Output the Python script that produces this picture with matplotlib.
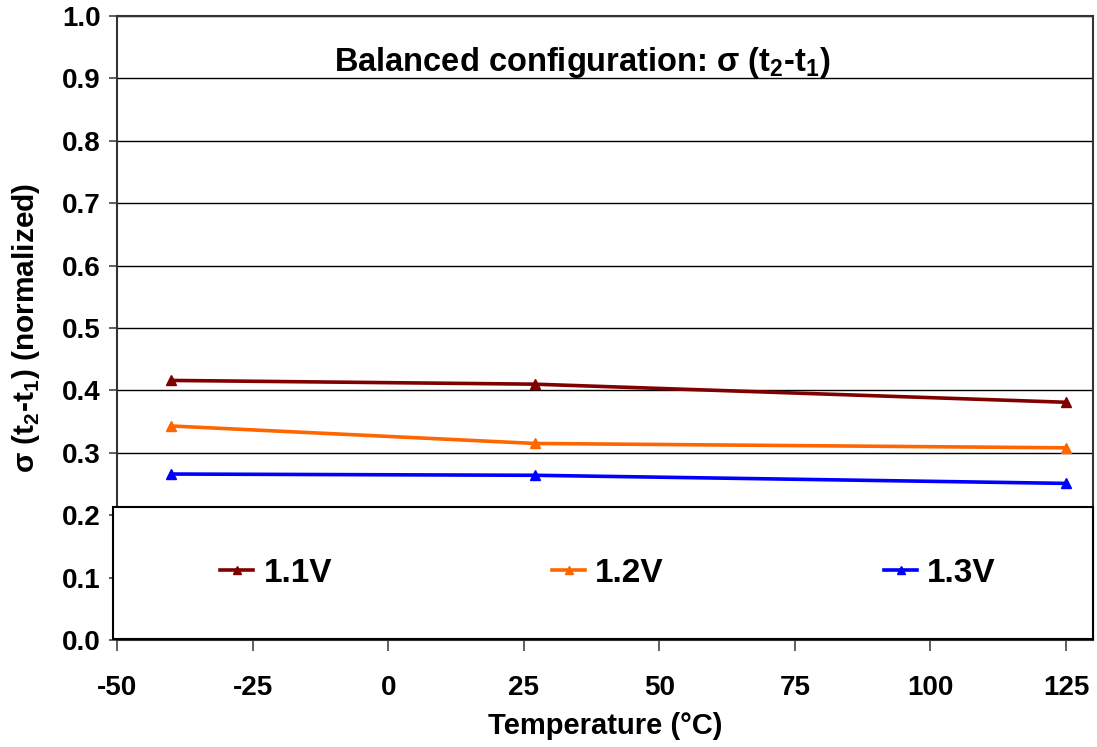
import numpy as np
import matplotlib
matplotlib.use("Agg")
import matplotlib.pyplot as plt
from matplotlib.patches import Rectangle

plt.rcParams["font.family"] = ["Liberation Sans", "DejaVu Sans"]
plt.rcParams["font.weight"] = "bold"
plt.rcParams["mathtext.fontset"] = "custom"
plt.rcParams["mathtext.rm"] = "Liberation Sans:bold"
plt.rcParams["mathtext.bf"] = "Liberation Sans:bold"

# data
temps = [-40, 27, 125]
v11 = [0.416, 0.410, 0.381]
v12 = [0.343, 0.315, 0.308]
v13 = [0.266, 0.264, 0.251]
series = [("1.1V", v11, "#800000"), ("1.2V", v12, "#FF6600"), ("1.3V", v13, "#0000FF")]

x_ticks = [-50, -25, 0, 25, 50, 75, 100, 125]
y_ticks = np.round(np.arange(0, 1.01, 0.1), 1)

fig = plt.figure(figsize=(10.97, 7.47), dpi=100)
ax = fig.add_axes([0.1067, 0.1432, 0.8897, 0.8354])

for label, vals, col in series:
    ax.plot(temps, vals, color=col, lw=2.6, marker="^", ms=6.5, label=label, zorder=4)

ax.set_xlim(-50, 130)
ax.set_ylim(0, 1.0)
ax.set_xticks(x_ticks)
ax.set_yticks(y_ticks)
ax.set_xticklabels([str(t) for t in x_ticks], fontsize=20, fontweight="bold")
ax.set_yticklabels([f"{t:.1f}" for t in y_ticks], fontsize=20, fontweight="bold")
ax.tick_params(axis="x", length=8, width=1.2, color="#444444", pad=17)
ax.tick_params(axis="y", length=6, width=1.2, color="#444444", pad=6)

ax.set_axisbelow(True)
ax.yaxis.grid(True, color="black", lw=1.0)
for s in ax.spines.values():
    s.set_color("#333333")
    s.set_linewidth(1.5)

ax.set_xlabel("Temperature (°C)", fontsize=21, fontweight="bold", labelpad=8)
ax.set_ylabel(r"σ (t$_{2}$-t$_{1}$) (normalized)", fontsize=21.5, fontweight="bold", labelpad=14)

ax.text(0.477, 0.926, r"Balanced configuration: σ (t$_{2}$-t$_{1}$)", transform=ax.transAxes,
        ha="center", va="center", fontsize=23.5, fontweight="bold")

# white box behind the legend, hides the lower gridlines and the spine
box = Rectangle((-0.004, 0.002), 1.004, 0.211, transform=ax.transAxes, facecolor="white",
                edgecolor="black", lw=1.5, zorder=3, clip_on=False)
ax.add_patch(box)

leg = ax.legend(loc="center", bbox_to_anchor=(0.503, 0.107), ncol=3, frameon=False,
                fontsize=24, handlelength=1.0, handletextpad=0.3, columnspacing=6.6,
                markerscale=0.8)
leg.set_zorder(5)

fig.savefig("out.png", dpi=100)
